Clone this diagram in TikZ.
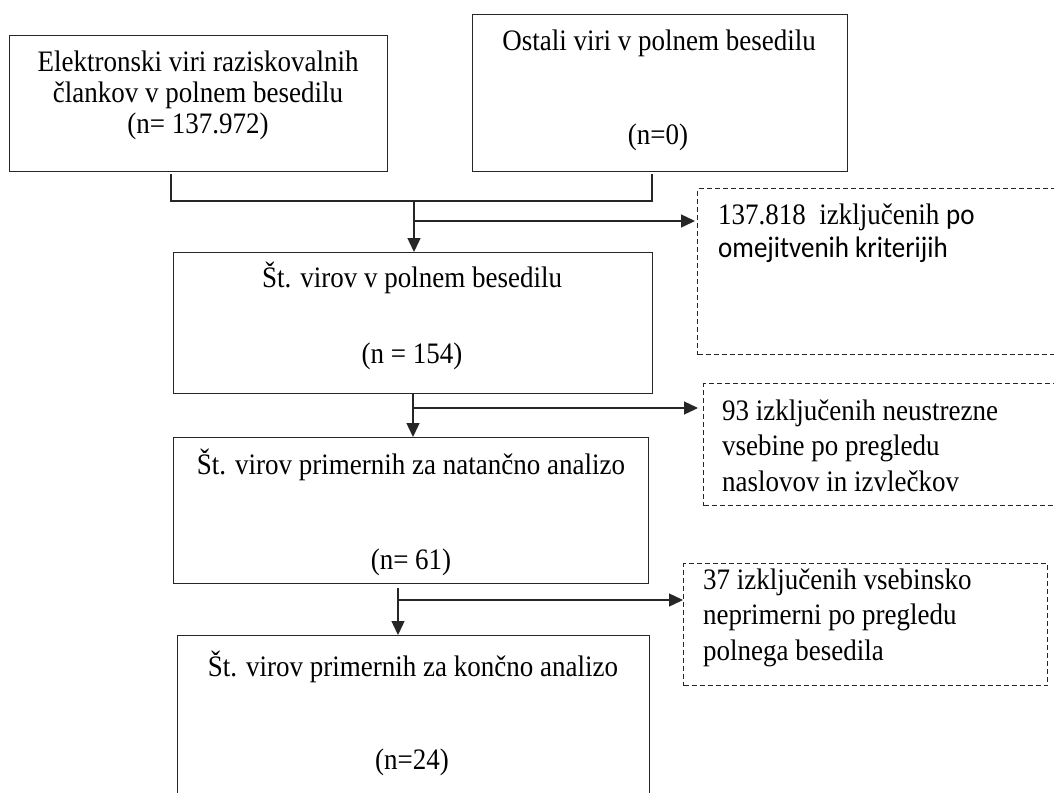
\documentclass[tikz,border=0pt]{standalone}
\usepackage{graphicx}
\usepackage{fontspec}
\setmainfont{Liberation Serif}
\newfontfamily\calfont{Carlito}
\usetikzlibrary{arrows.meta}
\newcommand\tl[1]{\scalebox{1}[1.1]{#1}}
\begin{document}
\begin{tikzpicture}[x=1pt,y=-1pt,
  box/.style={draw=black!85, line width=1.4pt, rectangle, inner sep=0pt, anchor=north west},
  dbox/.style={draw=black!85, line width=1.1pt, dash pattern=on 5pt off 3pt, rectangle, inner sep=0pt, anchor=north west},
  txt/.style={inner sep=0pt, align=center, font=\fontsize{27}{31}\selectfont},
  ltxt/.style={inner sep=0pt, align=left, anchor=west, font=\fontsize{27}{35.5}\selectfont},
  conn/.style={draw=black!85, line width=1.4pt},
  arr/.style={conn, -{Triangle[length=14pt,width=13pt]}}]
\useasboundingbox (0,0) rectangle (1054,792);
\fill[white] (0,0) rectangle (1054,792);

% boxes
\node[box, minimum width=378pt, minimum height=136pt] (b1) at (9,35) {};
\node[box, minimum width=375pt, minimum height=157pt] (b2) at (472,14) {};
\node[box, minimum width=479pt, minimum height=141pt] (b3) at (173,252) {};
\node[box, minimum width=475pt, minimum height=146pt] (b4) at (173,437) {};
\node[box, minimum width=472pt, minimum height=200pt] (b5) at (177,635) {};
\node[dbox, minimum width=380pt, minimum height=166pt] (d1) at (697,188) {};
\node[dbox, minimum width=380pt, minimum height=122pt] (d2) at (703,383) {};
\node[dbox, minimum width=364pt, minimum height=122pt] (d3) at (683,563) {};

% texts
\node[txt] (b1t) at (198,95) {\tl{Elektronski viri raziskovalnih}\\\tl{člankov v polnem besedilu}\\\tl{(n= 137.972)}};
\node[txt] (b2t) at (659,43) {\tl{Ostali viri v polnem besedilu}};
\node[txt] (b2n) at (658,137) {\tl{(n=0)}};
\node[txt] (b3t) at (412,278) {\tl{Št. virov v polnem besedilu}};
\node[txt] (b3n) at (412,356) {\tl{(n = 154)}};
\node[txt] (b4t) at (411,465) {\tl{Št. virov primernih za natančno analizo}};
\node[txt] (b4n) at (411,562) {\tl{(n= 61)}};
\node[txt] (b5t) at (413,667) {\tl{Št. virov primernih za končno analizo}};
\node[txt] (b5n) at (412,762) {\tl{(n=24)}};
\node[ltxt, font=\fontsize{27}{33}\selectfont] (d1t) at (718,233.5) {\tl{137.818\ \ izključenih {\calfont po}}\\\tl{\calfont omejitvenih kriterijih}};
\node[ltxt] (d2t) at (722,445.5) {\tl{93 izključenih neustrezne}\\\tl{vsebine po pregledu}\\\tl{naslovov in izvlečkov}};
\node[ltxt] (d3t) at (703,617.5) {\tl{37 izključenih vsebinsko}\\\tl{neprimerni po pregledu}\\\tl{polnega besedila}};

% connectors
\coordinate (s1) at (171,174);
\coordinate (s2) at (652,174);
\coordinate (jl) at (171,201);
\coordinate (jr) at (652,201);
\coordinate (m1) at (414,201);
\coordinate (r1) at (414,221);
\draw[conn] (s1) -- (jl) -- (jr) -- (s2);
\draw[arr] (m1) -- (m1 |- b3.north);
\draw[arr] (r1) -- ([xshift=-2pt]r1 -| d1.west);

\coordinate (r2) at (413,408);
\draw[arr] (b3.south -| r2) -- (r2 |- b4.north);
\draw[arr] (r2) -- ([xshift=-5pt]r2 -| d2.west);

\coordinate (s3) at (398,588);
\coordinate (r3) at (398,600);
\draw[arr] (s3) -- (s3 |- b5.north);
\draw[arr] (r3) -- (r3 -| d3.west);
\end{tikzpicture}
\end{document}
